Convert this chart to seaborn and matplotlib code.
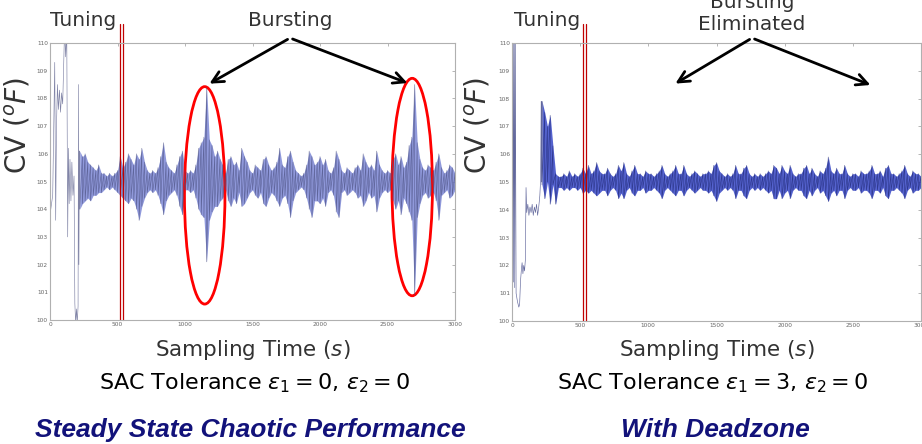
import numpy as np
import pandas as pd
import seaborn as sns
import matplotlib.pyplot as plt
from matplotlib.patches import Ellipse, FancyArrowPatch

# ---------------- data ----------------
# steady part sampled every 20 s from 220 s to 3000 s
steady_t = np.arange(220, 3001, 20)

# left panel: no deadzone (eps1 = 0)
left_tune_t = [0, 20, 35, 42, 48, 55, 62, 70, 78, 86, 94, 100, 108, 116, 124, 131, 136, 142, 148, 155,
               162, 170, 178, 184, 190, 196, 202, 208, 211, 214, 218]
left_tune_v = [103.8, 104.5, 109.3, 103.6, 107.0, 108.5, 107.6, 108.3, 107.5, 108.2,
               107.8, 108.9, 110.5, 109.5, 110.5, 103.0, 106.2, 104.2, 105.8, 104.3,
               105.7, 104.5, 105.2, 100.6, 99.9, 100.4, 99.9, 100.5, 108.5, 102.0, 106.1]
left_hi = [106.1, 105.9, 106.0, 105.7, 105.6, 105.5, 105.4, 105.6, 105.3, 105.3,
           105.2, 105.3, 105.2, 105.3, 105.4, 105.9, 105.5, 105.7, 106.0, 105.8,
           105.6, 106.0, 105.8, 106.2, 105.7, 105.4, 105.3, 105.4, 105.3, 105.5,
           105.9, 106.4, 105.7, 105.5, 105.4, 105.3, 105.6, 105.9, 106.1, 105.4,
           105.3, 105.4, 105.3, 105.6, 106.2, 106.4, 106.6, 108.4, 106.5, 106.3,
           105.9, 106.1, 105.8, 105.6, 105.3, 105.8, 105.9, 105.6, 105.7, 105.4,
           106.2, 105.9, 105.7, 105.4, 105.3, 105.6, 105.5, 105.4, 105.8, 105.9,
           105.6, 105.4, 105.5, 105.7, 106.2, 105.6, 105.5, 105.9, 106.1, 105.7,
           105.4, 105.3, 105.2, 105.3, 105.6, 106.1, 105.9, 105.6, 105.7, 105.9,
           105.6, 105.8, 105.4, 105.3, 105.5, 106.1, 105.8, 105.4, 105.3, 105.5,
           105.4, 105.3, 105.5, 105.6, 105.4, 106.0, 105.7, 105.5, 105.6, 105.4,
           106.1, 105.6, 105.4, 105.3, 105.4, 105.3, 105.8, 106.0, 105.6, 105.9,
           105.5, 105.7, 106.3, 106.6, 108.5, 106.4, 105.8, 105.5, 105.4, 105.6,
           105.5, 105.4, 105.7, 106.0, 105.5, 105.3, 105.4, 105.6, 105.5, 105.3]
left_lo = [104.0, 104.2, 104.3, 104.4, 104.3, 104.5, 104.5, 104.6, 104.6, 104.7,
           104.8, 104.7, 104.8, 104.7, 104.6, 104.5, 104.4, 104.3, 104.2, 104.4,
           104.3, 104.0, 103.6, 104.1, 104.4, 104.6, 104.7, 104.6, 104.7, 104.5,
           104.2, 103.8, 104.3, 104.5, 104.6, 104.7, 104.5, 104.1, 103.8, 104.7,
           104.7, 104.6, 104.7, 104.4, 104.0, 103.8, 103.7, 102.1, 103.6, 103.9,
           104.1, 104.1, 104.3, 104.4, 104.7, 104.3, 104.1, 104.4, 104.2, 104.6,
           104.1, 104.2, 104.4, 104.6, 104.7, 104.5, 104.4, 104.6, 104.2, 104.1,
           104.4, 104.6, 104.5, 104.3, 104.1, 104.4, 104.5, 104.2, 103.7, 104.3,
           104.6, 104.7, 104.8, 104.7, 104.4, 104.0, 103.7, 104.3, 104.3, 104.2,
           104.4, 104.1, 104.6, 104.7, 104.5, 103.9, 103.7, 104.6, 104.7, 104.5,
           104.6, 104.7, 104.6, 104.4, 104.5, 104.1, 104.3, 104.6, 104.4, 104.5,
           103.9, 104.4, 104.6, 104.7, 104.6, 104.7, 104.3, 104.0, 104.3, 103.8,
           104.4, 104.2, 103.9, 103.6, 100.9, 103.7, 104.2, 104.5, 104.6, 104.4,
           104.5, 104.6, 104.3, 103.6, 104.5, 104.6, 104.7, 104.4, 104.5, 104.7]

# right panel: with deadzone (eps1 = 3)
right_tune_t = [0, 4, 8, 12, 16, 20, 24, 30, 40, 50, 56, 62, 68, 74, 80, 86, 92, 98, 103, 108,
                116, 124, 132, 140, 148, 156, 164, 172, 180, 188, 196, 204, 210, 214, 218]
right_tune_v = [110.5, 101.3, 110.5, 101.4, 110.5, 101.2, 110.3, 101.0, 100.7, 100.5,
                100.6, 101.4, 101.8, 102.1, 101.7, 102.0, 101.8, 102.2, 104.8, 103.9,
                104.2, 103.8, 104.1, 103.9, 104.2, 103.8, 104.1, 103.9, 104.2, 103.8,
                104.1, 104.5, 105.1, 107.9, 105.0]
right_hi = [107.9, 107.5, 107.0, 107.4, 106.3, 105.3, 105.2, 105.2, 105.3, 105.2,
            105.4, 105.2, 105.3, 105.2, 105.3, 105.5, 105.3, 105.6, 105.3, 105.4,
            105.7, 105.4, 105.3, 105.3, 105.5, 105.3, 105.2, 105.3, 105.6, 105.4,
            105.7, 105.3, 105.2, 105.4, 105.6, 105.3, 105.3, 105.2, 105.4, 105.3,
            105.3, 105.2, 105.3, 105.4, 105.6, 105.3, 105.2, 105.3, 105.4, 105.6,
            105.3, 105.3, 105.6, 105.3, 105.2, 105.3, 105.4, 105.3, 105.2, 105.3,
            105.3, 105.4, 105.3, 105.6, 105.7, 105.4, 105.3, 105.2, 105.3, 105.2,
            105.3, 105.6, 105.3, 105.3, 105.5, 105.6, 105.3, 105.2, 105.3, 105.2,
            105.3, 105.2, 105.3, 105.4, 105.3, 105.6, 105.5, 105.3, 105.6, 105.4,
            105.3, 105.6, 105.3, 105.2, 105.3, 105.3, 105.5, 105.6, 105.3, 105.5,
            105.3, 105.2, 105.4, 105.3, 105.5, 105.9, 105.4, 105.3, 105.5, 105.3,
            105.3, 105.6, 105.3, 105.2, 105.3, 105.3, 105.2, 105.4, 105.3, 105.3,
            105.4, 105.6, 105.3, 105.3, 105.4, 105.2, 105.5, 105.6, 105.3, 105.3,
            105.2, 105.3, 105.4, 105.6, 105.3, 105.2, 105.4, 105.3, 105.3, 105.2]
right_lo = [104.9, 104.4, 105.0, 104.2, 104.9, 104.2, 104.8, 104.8, 104.7, 104.8,
            104.7, 104.8, 104.8, 104.7, 104.8, 104.6, 104.7, 104.6, 104.7, 104.6,
            104.5, 104.6, 104.7, 104.7, 104.5, 104.7, 104.8, 104.7, 104.4, 104.6,
            104.4, 104.7, 104.8, 104.6, 104.5, 104.7, 104.7, 104.8, 104.6, 104.7,
            104.7, 104.8, 104.7, 104.6, 104.4, 104.7, 104.8, 104.7, 104.6, 104.5,
            104.7, 104.7, 104.5, 104.7, 104.8, 104.7, 104.6, 104.7, 104.8, 104.7,
            104.7, 104.6, 104.7, 104.5, 104.3, 104.6, 104.7, 104.8, 104.7, 104.8,
            104.7, 104.4, 104.7, 104.7, 104.5, 104.4, 104.7, 104.8, 104.7, 104.8,
            104.7, 104.8, 104.7, 104.6, 104.7, 104.4, 104.4, 104.7, 104.4, 104.6,
            104.7, 104.4, 104.7, 104.8, 104.7, 104.7, 104.5, 104.4, 104.7, 104.5,
            104.7, 104.8, 104.6, 104.7, 104.5, 104.3, 104.6, 104.7, 104.5, 104.7,
            104.7, 104.4, 104.7, 104.8, 104.7, 104.7, 104.8, 104.6, 104.7, 104.7,
            104.6, 104.4, 104.7, 104.7, 104.6, 104.8, 104.5, 104.4, 104.7, 104.7,
            104.8, 104.7, 104.6, 104.4, 104.7, 104.8, 104.6, 104.7, 104.7, 104.8]

x_ticks = [0, 500, 1000, 1500, 2000, 2500, 3000]
y_ticks = list(range(100, 111))
tune_end = [520, 540]   # the double red marker at end of tuning


def trace_frame(tune_t, tune_v, hi, lo):
    # tuning trace followed by the steady band drawn as a hi/lo zigzag
    zx = np.repeat(steady_t, 2)
    zy = np.column_stack([hi, lo]).ravel()
    return pd.DataFrame({"t": np.concatenate([tune_t, zx]),
                         "cv": np.concatenate([tune_v, zy])})


def draw_panel(ax, tune_t, tune_v, hi, lo, fill_col, line_col):
    df = trace_frame(tune_t, tune_v, hi, lo)
    ax.fill_between(steady_t, lo, hi, color=fill_col, lw=0, alpha=0.8)
    sns.lineplot(data=df, x="t", y="cv", ax=ax, estimator=None, sort=False,
                 color=line_col, lw=0.45, alpha=0.7)
    for xv in tune_end:
        ax.plot([xv, xv], [100, 110.7], color="#c00000", lw=0.9, clip_on=False)
    ax.set_xlim(0, 3000)
    ax.set_ylim(100, 110)
    ax.set_xticks(x_ticks)
    ax.set_yticks(y_ticks)
    ax.set_xlabel("")
    ax.set_ylabel("")
    ax.tick_params(direction="in", length=2.5, width=0.5, labelsize=4.2,
                   labelcolor="#666666", color="#999999", pad=1.5,
                   top=True, right=True)
    for s in ax.spines.values():
        s.set_color("#b0b0b0")
        s.set_linewidth(0.8)


sns.set_style("white")
plt.rcParams["font.family"] = ["DejaVu Sans"]

fig = plt.figure(figsize=(9.22, 4.44), dpi=100)
W, H = 922, 444

ax1 = fig.add_axes([50 / W, (H - 320) / H, 405 / W, 277 / H])
ax2 = fig.add_axes([512 / W, (H - 321) / H, 409 / W, 278 / H])

draw_panel(ax1, left_tune_t, left_tune_v, left_hi, left_lo, "#7480d2", "#4a4f80")
draw_panel(ax2, right_tune_t, right_tune_v, right_hi, right_lo, "#2b3cc4", "#1e2672")

# red ellipses round the bursts
for cx, cy in [(1146, 104.5), (2683, 104.8)]:
    ax1.add_patch(Ellipse((cx, cy), 300, 7.85, fill=False, ec="red", lw=2.0))

# texts
txt = dict(color="#333333", ha="center", va="center")
for cx in [253, 717]:
    fig.text(cx / W, (H - 350) / H, r"Sampling Time ($s$)", fontsize=15.5, **txt)
for cx in [18, 478]:
    fig.text(cx / W, (H - 125) / H, r"CV ($^oF$)", fontsize=20, rotation=90, **txt)
fig.text(255 / W, (H - 383) / H, r"SAC Tolerance $\varepsilon_1 = 0$, $\varepsilon_2 = 0$",
         fontsize=16, color="black", ha="center", va="center")
fig.text(713 / W, (H - 383) / H, r"SAC Tolerance $\varepsilon_1 = 3$, $\varepsilon_2 = 0$",
         fontsize=16, color="black", ha="center", va="center")

title = dict(color="#12127a", fontsize=19, fontweight="bold", fontstyle="italic",
             family=["Liberation Sans", "DejaVu Sans"], ha="center", va="center")
fig.text(250 / W, (H - 430) / H, "Steady State Chaotic Performance", **title)
fig.text(715 / W, (H - 430) / H, "With Deadzone", **title)

fig.text(83 / W, (H - 20) / H, "Tuning", fontsize=14.5, **txt)
fig.text(547 / W, (H - 21) / H, "Tuning", fontsize=14.5, **txt)
fig.text(290 / W, (H - 21) / H, "Bursting", fontsize=14.5, **txt)
fig.text(752 / W, (H - 2) / H, "Bursting", fontsize=14.5, **txt)
fig.text(752 / W, (H - 25) / H, "Eliminated", fontsize=14.5, **txt)

# arrows
arrow = dict(arrowstyle="->", color="black", lw=2.0, mutation_scale=20)
for start, end in [((290, 38), (207, 85)), ((290, 38), (410, 84)),
                   ((752, 38), (673, 85)), ((752, 38), (873, 86))]:
    fig.add_artist(FancyArrowPatch(
        (start[0] / W, (H - start[1]) / H), (end[0] / W, (H - end[1]) / H),
        transform=fig.transFigure, **arrow))

fig.savefig("out.png", dpi=100)
